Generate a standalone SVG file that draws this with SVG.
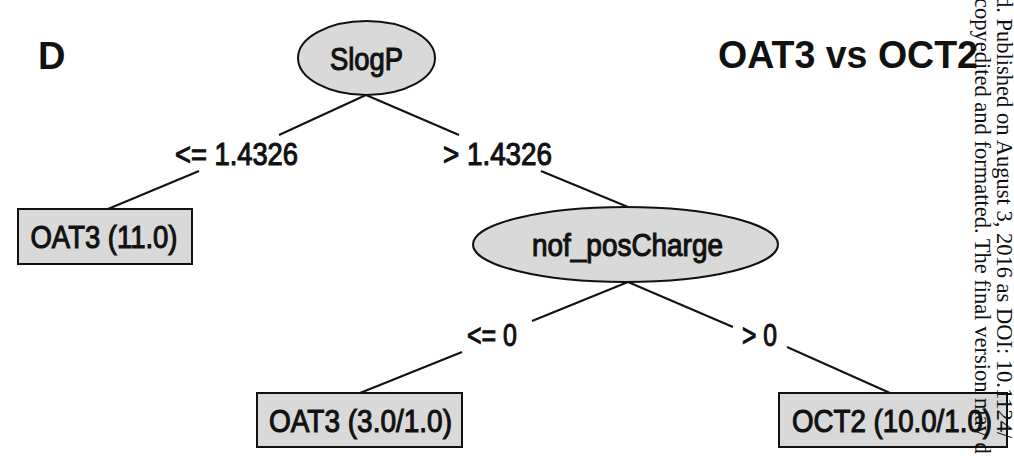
<svg xmlns="http://www.w3.org/2000/svg" width="1014" height="475" viewBox="0 0 1014 475">
  <style>
    .node { fill: #d9d9d9; stroke: #111; stroke-width: 2; }
    .lbl { font-family: "Liberation Sans", Arial, sans-serif; font-size: 31px; fill: #111; stroke: #111; stroke-width: 1.1; text-anchor: middle; }
    .edge { stroke: #111; stroke-width: 2; fill: none; }
    .head { font-family: "Liberation Sans", Arial, sans-serif; font-weight: bold; fill: #111; }
    .side { font-family: "Liberation Serif", "Times New Roman", serif; font-size: 22.5px; fill: #111; }
  </style>
  <rect width="1014" height="475" fill="#fff"/>

  <!-- panel letter and title -->
  <text class="head" x="38" y="69" font-size="38">D</text>
  <text class="head" x="718" y="68" font-size="39" textLength="260" lengthAdjust="spacingAndGlyphs">OAT3 vs OCT2</text>

  <!-- tree edges, broken where the split labels sit -->
  <g id="connectors">
    <line class="edge" x1="366" y1="95" x2="279" y2="135"/>
    <line class="edge" x1="199" y1="171" x2="108" y2="209"/>
    <line class="edge" x1="366" y1="95" x2="459" y2="135"/>
    <line class="edge" x1="541" y1="171" x2="628" y2="207"/>
    <line class="edge" x1="628" y1="282" x2="532" y2="321"/>
    <line class="edge" x1="462" y1="352" x2="360" y2="393"/>
    <line class="edge" x1="628" y1="282" x2="733" y2="327"/>
    <line class="edge" x1="787" y1="347" x2="890" y2="393"/>
    <text class="lbl" x="236.5" y="165" textLength="123" lengthAdjust="spacingAndGlyphs">&lt;= 1.4326</text>
    <text class="lbl" x="497.5" y="165" textLength="109" lengthAdjust="spacingAndGlyphs">&gt; 1.4326</text>
    <text class="lbl" x="492" y="346" textLength="50" lengthAdjust="spacingAndGlyphs">&lt;= 0</text>
    <text class="lbl" x="759.5" y="346" textLength="35" lengthAdjust="spacingAndGlyphs">&gt; 0</text>
  </g>

  <g id="node-slogp">
    <ellipse class="node" cx="366.5" cy="58" rx="68.5" ry="37"/>
    <text class="lbl" x="366.5" y="70" textLength="73" lengthAdjust="spacingAndGlyphs">SlogP</text>
  </g>

  <g id="node-oat3-11">
    <rect class="node" x="18" y="209" width="174" height="55"/>
    <text class="lbl" x="104" y="248" textLength="147" lengthAdjust="spacingAndGlyphs">OAT3 (11.0)</text>
  </g>

  <g id="node-posCharge">
    <ellipse class="node" cx="625.5" cy="244.5" rx="152.5" ry="37.5"/>
    <text class="lbl" x="627.5" y="256" textLength="191" lengthAdjust="spacingAndGlyphs">nof_posCharge</text>
  </g>

  <g id="node-oat3-3">
    <rect class="node" x="257" y="393" width="205" height="54"/>
    <text class="lbl" x="360.5" y="432" textLength="183" lengthAdjust="spacingAndGlyphs">OAT3 (3.0/1.0)</text>
  </g>

  <g id="node-oct2">
    <rect class="node" x="779" y="393" width="228" height="54"/>
    <text class="lbl" x="892" y="432" textLength="200" lengthAdjust="spacingAndGlyphs">OCT2 (10.0/1.0)</text>
  </g>

  <!-- vertical publisher notice along the right margin -->
  <text class="side" transform="translate(997,-4) rotate(90)">d. Published on August 3, 2016 as DOI: 10.1124/</text>
  <text class="side" transform="translate(975,-2) rotate(90)">copyedited and formatted. The final version may d</text>
</svg>
